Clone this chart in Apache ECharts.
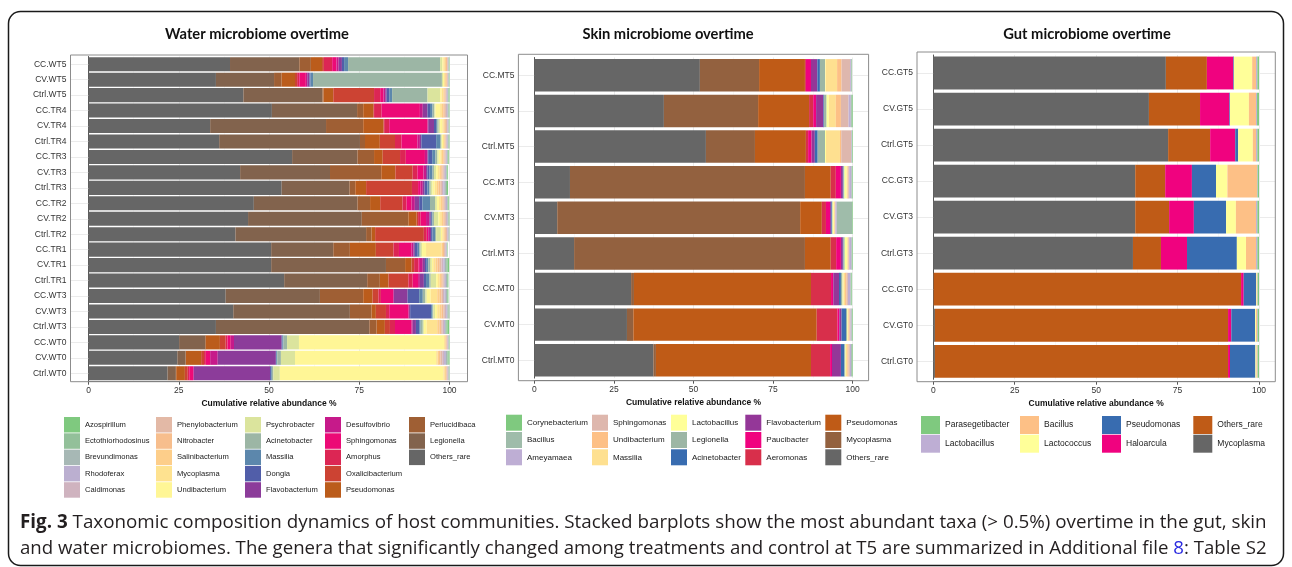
<!DOCTYPE html>
<html><head><meta charset="utf-8">
<script src="https://cdn.jsdelivr.net/npm/echarts@6/dist/echarts.min.js"></script>
<style>html,body{margin:0;padding:0;background:#fff}#c{width:1292px;height:567px}</style>
</head><body><div id="c"></div>
<script>
// ---------------- DATA ----------------
// Water panel
const waterRows = ['CC.WT5','CV.WT5','Ctrl.WT5','CC.TR4','CV.TR4','Ctrl.TR4','CC.TR3','CV.TR3','Ctrl.TR3','CC.TR2','CV.TR2','Ctrl.TR2','CC.TR1','CV.TR1','Ctrl.TR1','CC.WT3','CV.WT3','Ctrl.WT3','CC.WT0','CV.WT0','Ctrl.WT0'];
// taxa in legend (palette) order; bars stack in the reverse order (Others_rare at 0)
const waterTaxa = ['Azospirillum','Ectothiorhodosinus','Brevundimonas','Rhodoferax','Caldimonas','Phenylobacterium','Nitrobacter','Salinibacterium','Mycoplasma','Undibacterium','Psychrobacter','Acinetobacter','Massilia','Dongia','Flavobacterium','Desulfovibrio','Sphingomonas','Amorphus','Oxalicibacterium','Pseudomonas','Perlucidibaca','Legionella','Others_rare'];
// values per row, in stack order (Others_rare ... Azospirillum)
const waterValues = [
  [39.2,19.2,3.2,3.1,0.5,2.3,1.2,0.6,0.9,0.6,1.1,25.5,0.6,0.3,0.4,0.3,0.3,0.2,0.1,0.1,0.1,0.1,0.1],
  [35.3,16.1,2.1,3.7,0.6,0.6,1.8,0.4,0.6,0.3,0.7,35.7,0.3,0.3,0.3,0.3,0.2,0.2,0.1,0.1,0.1,0.1,0.1],
  [42.9,21.9,0.3,2.7,11.3,1.7,0.9,0.5,0.4,0.7,0.8,9.8,3.5,0.4,0.5,0.3,0.3,0.2,0.2,0.2,0.2,0.1,0.2],
  [50.8,23.6,1.7,2.8,0.2,2.1,10.6,0.8,1.3,0.7,0.7,0.5,0.3,1.3,0.5,0.4,0.4,0.3,0.3,0.2,0.2,0.2,0.2],
  [33.7,32.1,10.3,5.6,0.2,1.4,10.6,0.2,1.6,0.6,0.3,0.4,0.4,0.6,0.4,0.3,0.3,0.3,0.2,0.2,0.1,0.1,0.1],
  [36.2,39.0,1.4,4.1,4.2,1.8,4.4,0.7,0.4,4.1,1.1,0.3,0.2,0.3,0.3,0.2,0.2,0.2,0.2,0.2,0.2,0.2,0.2],
  [56.4,18.1,4.6,2.4,4.8,1.6,5.3,0.7,0.2,1.1,0.9,0.5,0.4,0.5,0.4,0.4,0.3,0.3,0.2,0.2,0.2,0.2,0.2],
  [42.0,24.9,14.2,3.9,4.8,1.3,1.7,0.7,0.4,0.5,0.9,0.4,0.6,0.5,0.5,0.4,0.4,0.3,0.3,0.3,0.2,0.2,0.2],
  [53.5,18.8,1.6,3.0,12.7,1.7,0.7,0.6,0.5,0.8,0.5,0.4,0.5,0.6,0.6,0.5,0.5,0.4,0.4,0.4,0.3,0.3,0.3],
  [45.8,28.7,3.5,2.8,6.2,1.1,1.4,0.9,1.2,0.9,2.1,1.4,0.5,0.6,0.5,0.4,0.4,0.3,0.3,0.3,0.2,0.2,0.2],
  [44.2,31.5,12.9,2.3,0.4,0.7,1.5,0.9,0.4,0.3,0.2,0.4,1.2,0.5,0.5,0.4,0.4,0.3,0.3,0.2,0.2,0.2,0.2],
  [40.7,36.2,1.5,1.0,13.5,0.8,0.4,0.5,0.3,0.4,0.7,0.3,1.3,0.4,0.4,0.3,0.3,0.3,0.2,0.2,0.2,0.1,0.1],
  [50.6,17.2,4.6,7.2,4.9,1.5,3.5,0.5,0.4,0.8,0.4,0.4,0.4,1.1,4.3,0.4,0.3,0.3,0.2,0.2,0.1,0.1,0.1],
  [50.6,31.8,5.3,1.8,0.7,1.2,0.4,0.8,0.6,0.5,0.4,0.5,0.5,0.4,0.6,0.6,0.6,0.5,0.5,0.4,0.4,0.4,0.4],
  [54.2,23.0,3.5,2.4,5.5,1.2,1.5,0.5,1.1,0.6,0.9,0.4,1.5,0.5,0.5,0.4,0.4,0.3,0.3,0.3,0.3,0.2,0.2],
  [38.0,26.1,12.0,2.6,1.6,0.7,3.4,0.2,3.8,3.2,1.0,0.7,0.4,1.1,1.8,0.7,0.5,0.4,0.4,0.4,0.3,0.2,0.2],
  [40.1,32.3,6.0,1.2,2.8,0.9,5.3,0.2,0.3,5.8,0.4,0.2,0.5,0.6,0.7,0.5,0.5,0.4,0.4,0.3,0.3,0.3,0.2],
  [35.3,42.5,2.0,2.3,1.4,1.4,4.6,0.3,0.9,0.9,0.4,0.6,0.3,0.8,2.9,0.6,0.5,0.4,0.4,0.3,0.3,0.3,0.5],
  [25.1,7.2,0.2,3.9,1.6,0.5,0.9,0.9,13.2,0.2,0.3,1.0,3.3,40.2,0.3,0.2,0.2,0.2,0.2,0.1,0.1,0.1,0.2],
  [24.6,2.3,0.1,4.2,0.8,0.5,1.2,2.1,16.1,0.1,0.3,1.0,3.9,39.1,0.4,0.4,0.4,0.5,0.5,0.5,0.4,0.3,0.5],
  [21.9,2.3,0.1,2.4,0.8,0.4,1.1,0.2,21.1,0.3,0.2,0.4,1.8,45.3,0.4,0.3,0.2,0.2,0.2,0.1,0.1,0.2,0.2]
];

// Skin panel
const skinRows = ['CC.MT5','CV.MT5','Ctrl.MT5','CC.MT3','CV.MT3','Ctrl.MT3','CC.MT0','CV.MT0','Ctrl.MT0'];
const skinTaxa = ['Corynebacterium','Bacillus','Ameyamaea','Sphingomonas','Undibacterium','Massilia','Lactobacillus','Legionella','Acinetobacter','Flavobacterium','Paucibacter','Aeromonas','Pseudomonas','Mycoplasma','Others_rare'];
const skinValues = [
  [52.0,18.6,14.4,0.3,1.6,2.0,0.8,1.6,0.2,3.6,1.4,2.7,0.3,0.2,0.1],
  [40.7,29.6,16.0,1.3,0.9,2.3,0.2,0.8,0.7,2.2,1.6,2.4,0.7,0.3,0.3],
  [53.9,15.4,16.0,0.7,1.1,1.0,0.9,2.3,0.3,4.4,0.4,3.1,0.2,0.1,0.2],
  [11.2,73.8,8.1,1.6,1.6,0.6,0.2,0.3,0.7,0.3,0.2,0.3,0.7,0.2,0.2],
  [7.2,76.3,6.8,1.3,1.3,0.4,0.2,0.2,0.4,0.2,0.2,0.1,0.4,4.8,0.2],
  [12.5,72.5,8.1,1.7,1.5,0.6,0.2,0.4,0.8,0.2,0.2,0.2,0.7,0.2,0.2],
  [30.4,0.9,55.6,6.3,0.7,1.8,0.6,0.5,0.3,0.5,0.5,0.4,0.8,0.3,0.2],
  [29.1,2.0,57.6,6.5,0.6,0.7,1.4,0.4,0.2,0.2,0.3,0.3,0.3,0.2,0.2],
  [37.4,0.8,48.7,6.0,0.6,2.8,1.1,0.3,0.2,0.4,0.4,0.4,0.4,0.3,0.2]
];

// Gut panel
const gutRows = ['CC.GT5','CV.GT5','Ctrl.GT5','CC.GT3','CV.GT3','Ctrl.GT3','CC.GT0','CV.GT0','Ctrl.GT0'];
const gutTaxa = ['Parasegetibacter','Lactobacillus','Bacillus','Lactococcus','Pseudomonas','Haloarcula','Others_rare','Mycoplasma'];
const gutValues = [
  [71.4,12.6,8.1,0.2,5.6,1.2,0.4,0.5],
  [66.2,15.7,9.0,0.2,5.8,2.2,0.3,0.6],
  [72.1,12.9,7.7,0.9,4.5,1.0,0.4,0.5],
  [62.0,9.2,8.2,7.4,3.5,9.1,0.2,0.4],
  [62.0,10.4,7.6,9.9,3.0,6.2,0.4,0.5],
  [61.3,8.6,8.0,15.3,2.8,3.1,0.4,0.5],
  [0.1,94.4,0.8,3.8,0.2,0.2,0.1,0.4],
  [0.5,90.0,1.0,7.3,0.3,0.3,0.2,0.4],
  [0.5,90.0,0.6,7.8,0.3,0.3,0.1,0.4]
];

const panelTitles = ['Water microbiome overtime','Skin microbiome overtime','Gut microbiome overtime'];
const xTicks = [0,25,50,75,100];
const xAxisTitle = 'Cumulative relative abundance %';
const captionLine1 = ['Fig. 3',' Taxonomic composition dynamics of host communities. Stacked barplots show the most abundant taxa (> 0.5%) overtime in the gut, skin'];
const captionLine2 = ['and water microbiomes. The genera that significantly changed among treatments and control at T5 are summarized in Additional file ','8',': Table S2'];

// ---------------- STYLE / LAYOUT ----------------
const ACCENT = ['#7FC97F','#BEAED4','#FDC086','#FFFF99','#386CB0','#F0027F','#BF5B17','#666666'];
function hex(h){return [1,3,5].map(i=>parseInt(h.substr(i,2),16));}
function ramp(n){
  const out=[];
  for(let i=0;i<n;i++){
    const t = i*(ACCENT.length-1)/(n-1);
    const k = Math.min(Math.floor(t), ACCENT.length-2), f = t-k;
    const a=hex(ACCENT[k]), b=hex(ACCENT[k+1]);
    out.push('rgb('+[0,1,2].map(j=>Math.round(a[j]+(b[j]-a[j])*f)).join(',')+')');
  }
  return out;
}
const LABEL_FONT = 'Liberation Sans';
const panels = [
  {key:'W', rows:waterRows, taxa:waterTaxa, values:waterValues, title:panelTitles[0], titleX:257,
   grid:{left:88.5, top:56.5, width:361, height:324.5}, frame:{x:70.5,y:55,w:397,h:326.7},
   lg:{nrow:5, colX:[64,156,245,325,409], top:417, w:16, h:15.5, gap:0.8, fs:7.6}},
  {key:'S', rows:skinRows, taxa:skinTaxa, values:skinValues, title:panelTitles[1], titleX:668,
   grid:{left:534.3, top:57.5, width:318.4, height:320.6}, frame:{x:518.4,y:54.3,w:350.2,h:326.4},
   lg:{nrow:3, colX:[506,592,671,745.3,825.3], top:414.7, w:16, h:16, gap:1.3, fs:8}},
  {key:'G', rows:gutRows, taxa:gutTaxa, values:gutValues, title:panelTitles[2], titleX:1087,
   grid:{left:933.3, top:55, width:325.7, height:324.3}, frame:{x:917,y:52,w:358.3,h:329.7},
   lg:{nrow:2, colX:[921,1020,1102,1193.3], top:416, w:19, h:18, gap:0.7, fs:8.5}}
];

const mctx = document.createElement('canvas').getContext('2d');
function tw(text,size,family,weight){mctx.font=(weight||'normal')+' '+size+'px "'+family+'"';return mctx.measureText(text).width;}

const grids=[], xAxes=[], yAxes=[], series=[], legends=[], graphics=[];
panels.forEach((p,pi)=>{
  const colors = ramp(p.taxa.length);
  grids.push(Object.assign({containLabel:false}, p.grid));
  const fb = p.frame.y + p.frame.h, gb = p.grid.top + p.grid.height;
  const leftOff = p.grid.left - p.frame.x;
  const rightOff = p.frame.x + p.frame.w - (p.grid.left + p.grid.width);
  xAxes.push({
    type:'value', gridIndex:pi, min:xTicks[0], max:xTicks[xTicks.length-1], interval:xTicks[1]-xTicks[0],
    position:'bottom', offset: fb-gb,
    axisLine:{show:true, lineStyle:{color:'#555', width:1}},
    axisTick:{show:true, length:3, lineStyle:{color:'#555'}},
    axisLabel:{margin:4, fontSize:8.5, color:'#333', fontFamily:LABEL_FONT},
    splitLine:{show:true, lineStyle:{color:'#EBEBEB', width:1}},
    minorTick:{show:false, splitNumber:2},
    minorSplitLine:{show:true, lineStyle:{color:'#F3F3F3', width:0.6}},
    name:xAxisTitle, nameLocation:'middle', nameGap:13,
    nameTextStyle:{fontSize:8.5, fontWeight:'bold', color:'#111', fontFamily:LABEL_FONT}
  });
  const yi = yAxes.length;
  yAxes.push({
    type:'category', gridIndex:pi, data:p.rows, inverse:true, position:'left', offset:leftOff,
    axisLine:{show:true, lineStyle:{color:'#555', width:1}},
    axisTick:{show:true, length:3, alignWithLabel:true, interval:0, lineStyle:{color:'#555'}},
    axisLabel:{margin:4, fontSize:8.5, color:'#333', fontFamily:LABEL_FONT, interval:0},
    splitLine:{show:false}
  });
  // faint row gridlines in the panel margins (left and right)
  yAxes.push({
    type:'category', gridIndex:pi, data:p.rows, inverse:true, position:'left', offset:0,
    axisLine:{show:false}, axisLabel:{show:false}, splitLine:{show:false},
    axisTick:{show:true, length:leftOff, alignWithLabel:true, interval:0, lineStyle:{color:'#EBEBEB', width:1}}
  });
  yAxes.push({
    type:'category', gridIndex:pi, data:p.rows, inverse:true, position:'right', offset:0,
    axisLine:{show:false}, axisLabel:{show:false}, splitLine:{show:false},
    axisTick:{show:true, length:rightOff, alignWithLabel:true, interval:0, lineStyle:{color:'#EBEBEB', width:1}}
  });
  const stackTaxa = p.taxa.slice().reverse();
  stackTaxa.forEach((t,j)=>{
    const ci = p.taxa.length-1-j;
    series.push({
      type:'bar', name:p.key+':'+t, stack:p.key, xAxisIndex:pi, yAxisIndex:yi,
      barCategoryGap:'9%', itemStyle:{color:colors[ci]},
      data:p.values.map(r=>r[j]), animation:false, silent:true
    });
  });
  // legend, one component per column (filled by column, like the original)
  const names = p.taxa.map(t=>p.key+':'+t);
  for(let c=0; c*p.lg.nrow<names.length; c++){
    legends.push({
      show:true, orient:'vertical', left:p.lg.colX[c], top:p.lg.top, padding:0,
      itemWidth:p.lg.w, itemHeight:p.lg.h, itemGap:p.lg.gap, icon:'rect', selectedMode:false,
      data:names.slice(c*p.lg.nrow,(c+1)*p.lg.nrow), formatter:n=>n.slice(2),
      textStyle:{fontSize:p.lg.fs, fontFamily:LABEL_FONT, color:'#1a1a1a'}
    });
  }
  graphics.push({type:'rect', shape:{x:p.frame.x,y:p.frame.y,width:p.frame.w,height:p.frame.h},
    style:{fill:null, stroke:'#8c8c8c', lineWidth:1}, z:10, silent:true});
});

// titles
const TITLE_FONT = 'Lato';
const titleSize = 13 * 184 / tw(panelTitles[0], 13, TITLE_FONT, 'bold');
panels.forEach(p=>{
  graphics.push({type:'text', x:p.titleX, y:34, silent:true,
    style:{text:p.title, fontSize:titleSize, fontWeight:'bold', fontFamily:TITLE_FONT, fill:'#111', align:'center', verticalAlign:'middle'}});
});

// caption
const CAP_FONT = 'Open Sans';
const capW = 1248;
const w1 = tw(captionLine1[0],16,CAP_FONT,'bold') + tw(captionLine1[1],16,CAP_FONT);
const s1 = 16*capW/w1;
const w2 = tw(captionLine2[0]+captionLine2[1]+captionLine2[2],16,CAP_FONT);
const s2 = 16*capW/w2;
const rs = (s,extra)=>Object.assign({fontSize:s, fontFamily:CAP_FONT, fill:'#231f20'}, extra||{});
graphics.push({type:'text', x:20, y:523, silent:true, style:{
  text:'{b|'+captionLine1[0]+'}{n|'+captionLine1[1]+'}', align:'left', verticalAlign:'middle',
  fontSize:s1, fontFamily:CAP_FONT, fill:'#231f20',
  rich:{b:rs(s1,{fontWeight:'bold'}), n:rs(s1)}}});
graphics.push({type:'text', x:20, y:549, silent:true, style:{
  text:'{n|'+captionLine2[0]+'}{c|'+captionLine2[1]+'}{n|'+captionLine2[2]+'}', align:'left', verticalAlign:'middle',
  fontSize:s2, fontFamily:CAP_FONT, fill:'#231f20',
  rich:{n:rs(s2), c:rs(s2,{fill:'#2a2ae0'})}}});

// outer rounded frame
graphics.push({type:'rect', shape:{x:8.5,y:11.5,width:1275,height:554,r:12},
  style:{fill:null, stroke:'#1a1a1a', lineWidth:1.5}, z:10, silent:true});

const chart = echarts.init(document.getElementById('c'), null, {renderer:'canvas'});
chart.setOption({
  animation:false, backgroundColor:'#fff',
  grid:grids, xAxis:xAxes, yAxis:yAxes, series:series, legend:legends, graphic:graphics
});
</script></body></html>
